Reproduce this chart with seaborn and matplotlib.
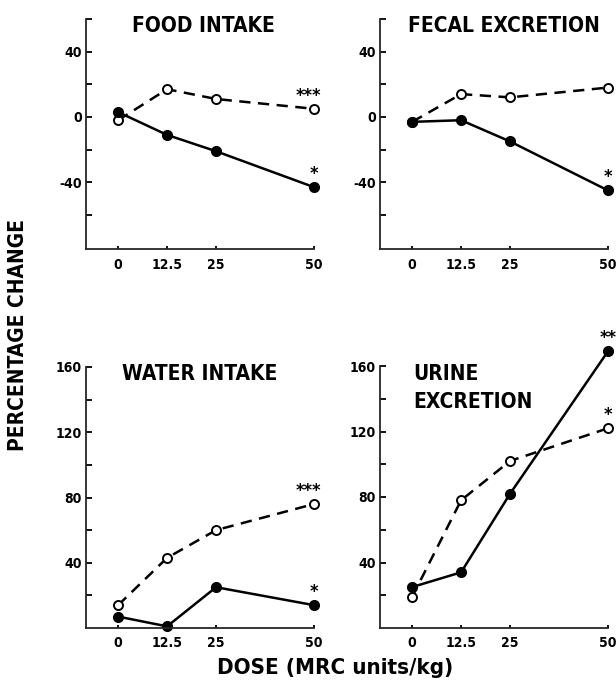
import matplotlib
matplotlib.use("Agg")
import matplotlib.pyplot as plt
import seaborn as sns
import pandas as pd

# --------------------------
# Data
# --------------------------
dose = [0, 12.5, 25, 50]
dose_labels = ["0", "12.5", "25", "50"]

food_filled = [3, -11, -21, -43]
food_open = [-2, 17, 11, 5]
fecal_filled = [-3, -2, -15, -45]
fecal_open = [-3, 14, 12, 18]
water_filled = [7, 1, 25, 14]
water_open = [14, 43, 60, 76]
urine_filled = [25, 34, 82, 169]
urine_open = [19, 78, 102, 122]

titles = ["FOOD INTAKE", "FECAL EXCRETION", "WATER INTAKE", "URINE\nEXCRETION"]

# significance marks at the highest dose: (open, filled)
food_stars = ["***", "*"]
fecal_stars = ["", "*"]
water_stars = ["***", "*"]
urine_stars = ["*", "**"]

# --------------------------
# Style
# --------------------------
sns.set_style("ticks")
plt.rcParams["font.family"] = ["DejaVu Sans"]
plt.rcParams["font.stretch"] = "condensed"
plt.rcParams["font.weight"] = "bold"
plt.rcParams["axes.linewidth"] = 1.3
plt.rcParams["axes.unicode_minus"] = False
plt.rcParams["text.color"] = "black"

W, H = 616, 687
fig = plt.figure(figsize=(W / 100, H / 100), dpi=100)


def box(left, right, top, bottom):
    return [left / W, 1 - bottom / H, (right - left) / W, (bottom - top) / H]


panels = [
    dict(rect=box(86, 314, 19, 249.2), xlim=(-8.2, 50), ylim=(-81, 60),
         major=[-40, 0, 40], minor=[-60, -20, 20, 60],
         filled=food_filled, open=food_open, stars=food_stars,
         title=titles[0], tpos=(0.515, 0.968), tha="center"),
    dict(rect=box(380, 608, 19, 249.2), xlim=(-8.2, 50), ylim=(-81, 60),
         major=[-40, 0, 40], minor=[-60, -20, 20, 60],
         filled=fecal_filled, open=fecal_open, stars=fecal_stars,
         title=titles[1], tpos=(0.545, 0.968), tha="center"),
    dict(rect=box(86, 314, 367, 628), xlim=(-8.2, 50), ylim=(0, 160),
         major=[40, 80, 120, 160], minor=[20, 60, 100, 140],
         filled=water_filled, open=water_open, stars=water_stars,
         title=titles[2], tpos=(0.5, 0.973), tha="center"),
    dict(rect=box(380, 608, 366, 628), xlim=(-8.2, 50), ylim=(0, 160),
         major=[40, 80, 120, 160], minor=[20, 60, 100, 140],
         filled=urine_filled, open=urine_open, stars=urine_stars,
         title=titles[3], tpos=(0.145, 1.006), tha="left"),
]

for p in panels:
    ax = fig.add_axes(p["rect"])
    df = pd.DataFrame({"dose": dose, "filled": p["filled"], "open": p["open"]})

    sns.lineplot(data=df, x="dose", y="open", ax=ax, color="black",
                 linestyle=(0, (4.5, 3)), linewidth=1.8, marker="o",
                 markersize=6.5, markerfacecolor="white",
                 markeredgecolor="black", markeredgewidth=1.4, clip_on=False)
    sns.lineplot(data=df, x="dose", y="filled", ax=ax, color="black",
                 linewidth=1.8, marker="o", markersize=7,
                 markerfacecolor="black", markeredgecolor="black",
                 markeredgewidth=1, clip_on=False)

    # asterisks above the last points
    for txt, vals in zip(p["stars"], [p["open"], p["filled"]]):
        if txt:
            shift = -4 if len(txt) == 3 else 0
            ax.annotate(txt, (dose[-1], vals[-1]), xytext=(shift, 3),
                        textcoords="offset points", ha="center", va="bottom",
                        fontsize=13, fontweight="bold",
                        annotation_clip=False)

    ax.set_xlim(*p["xlim"])
    ax.set_ylim(*p["ylim"])
    ax.set_xticks(dose)
    ax.set_xticklabels(dose_labels)
    ax.set_yticks(p["major"])
    ax.set_yticks(p["minor"], minor=True)
    ax.tick_params(axis="both", which="both", direction="in", width=1.3,
                   labelsize=10, colors="black")
    ax.tick_params(axis="y", which="both", length=4.5, pad=3)
    ax.tick_params(axis="x", which="both", length=2.5, pad=6)
    ax.set_xlabel("")
    ax.set_ylabel("")
    sns.despine(ax=ax)

    ax.text(p["tpos"][0], p["tpos"][1], p["title"], transform=ax.transAxes,
            ha=p["tha"], va="top" if p["tha"] == "left" else "center",
            fontsize=15, fontweight="bold", linespacing=1.45)

fig.text(18 / W, 1 - 335 / H, "PERCENTAGE CHANGE", rotation=90,
         ha="center", va="center", fontsize=15, fontweight="bold")
fig.text(335 / W, 1 - 668 / H, "DOSE (MRC units/kg)", ha="center",
         va="center", fontsize=16, fontweight="bold")

fig.savefig("out.png", dpi=100)
